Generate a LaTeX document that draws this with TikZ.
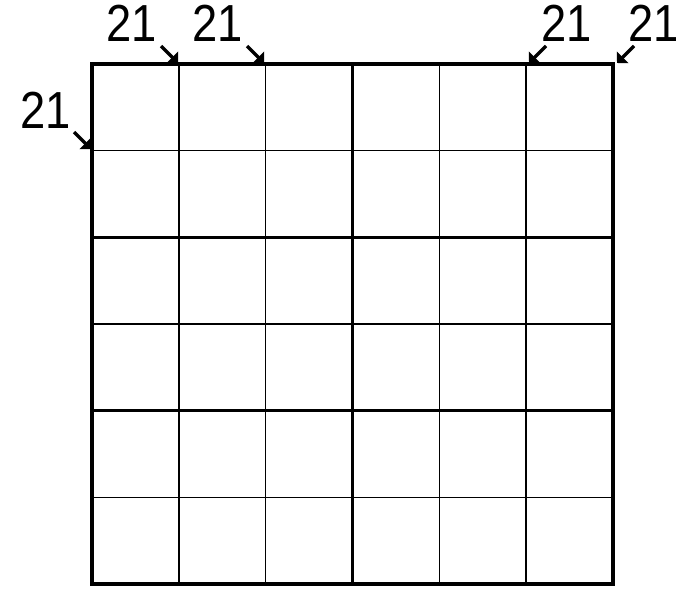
\documentclass[tikz,border=0pt]{standalone}
\usepackage{fontspec}
\setmainfont{Liberation Sans}
\usetikzlibrary{arrows.meta}
\begin{document}
\begin{tikzpicture}[x=0.75pt,y=-0.75pt,
  thin grid/.style={line width=1.05pt,black},
  thick grid/.style={line width=2.4pt,black,line cap=rect},
  lbl/.style={inner sep=0pt,yscale=1.15,font=\fontsize{34}{40}\selectfont},
  pointer/.style={line width=2.5pt,-{Triangle[angle=90:8.5pt]}}]
\useasboundingbox (0,0) rectangle (691,599);
% thin lines
\foreach \i in {1,2,4,5} {
  \draw[thin grid] ({92+\i*521/6},64) -- ({92+\i*521/6},584);
}
\foreach \j in {1,3,5} {
  \draw[thin grid] (92,{64+\j*520/6}) -- (613,{64+\j*520/6});
}
% thick lines
\foreach \i in {0,3,6} {
  \draw[thick grid] ({92+\i*521/6},64) -- ({92+\i*521/6},584);
}
\foreach \j in {0,2,4,6} {
  \draw[thick grid] (92,{64+\j*520/6}) -- (613,{64+\j*520/6});
}
% labels
\node[lbl] (t1) at (132,23.5) {21};
\node[lbl] (t2) at (218,23.5) {21};
\node[lbl] (t3) at (566.5,23.5) {21};
\node[lbl] (t4) at (653.5,23.5) {21};
\node[lbl] (t5) at (45.5,110) {21};
% arrow ends
\coordinate (s1) at (161,46);
\coordinate (e1) at (178,63);
\coordinate (s2) at (247,46);
\coordinate (e2) at (264,63);
\coordinate (s3) at (546,46);
\coordinate (e3) at (529,63);
\coordinate (s4) at (634,46);
\coordinate (e4) at (617,63);
\coordinate (s5) at (74,132);
\coordinate (e5) at (91,149);
\foreach \k in {1,...,5} {
  \draw[pointer] (s\k) -- (e\k);
}
\end{tikzpicture}
\end{document}
